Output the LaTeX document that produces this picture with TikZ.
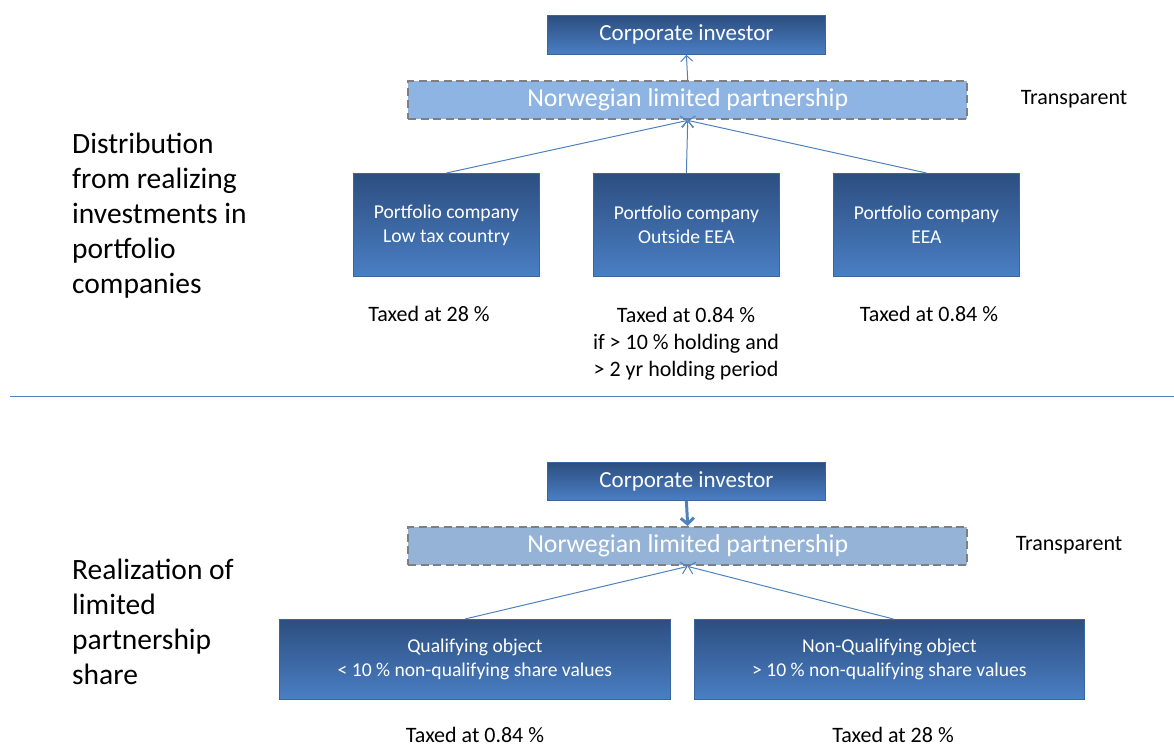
\documentclass[tikz,border=0pt]{standalone}
\usepackage{fontspec}
\setmainfont{Carlito}
\usetikzlibrary{arrows.meta,positioning}
\definecolor{boxtop}{HTML}{2C4E80}
\definecolor{boxbot}{HTML}{4A7FC4}
\definecolor{boxline}{HTML}{3A66A0}
\definecolor{lpfill}{HTML}{8EB4E3}
\definecolor{lpfillb}{HTML}{95B3D7}
\definecolor{conn}{HTML}{4F81BD}
\definecolor{dashgray}{HTML}{7F7F7F}
\tikzset{
  x=1pt,y=-1pt,
  bluebox/.style={draw=boxline,line width=0.8pt,top color=boxtop,bottom color=boxbot,text=white,align=center,inner sep=0pt,anchor=north west},
  lpbox/.style={draw=dashgray,line width=2.4pt,dash pattern=on 8pt off 4.5pt,fill=#1,text=white,inner sep=0pt,anchor=north west,font=\fontsize{25.8}{28}\selectfont},
  conline/.style={draw=conn,line width=1pt,-{Straight Barb[length=6pt,width=12pt]}},
  thickline/.style={draw=conn,line width=3pt,-{Straight Barb[length=6pt,width=13pt,line width=3pt]}},
  plain/.style={align=center,inner sep=0pt,font=\fontsize{22}{27}\selectfont},
  side/.style={align=left,inner sep=0pt,anchor=north west,font=\fontsize{29.5}{35}\selectfont},
  boxtext/.style={font=\fontsize{19.6}{24}\selectfont},
  trans/.style={inner sep=0pt,font=\fontsize{22}{26}\selectfont},
}
\begin{document}
\begin{tikzpicture}
\useasboundingbox (0,0) rectangle (1174,747);
% ---------- upper part ----------
\node[bluebox,minimum width=278pt,minimum height=39pt,font=\fontsize{23}{26}\selectfont] (ci1) at (547,15) {Corporate investor};
\node[lpbox=lpfill,minimum width=559pt,minimum height=38pt] (lp1) at (407,80) {Norwegian limited partnership};
\node[trans] (tr1) at (1074,99) {Transparent};
\node[bluebox,boxtext,minimum width=186pt,minimum height=103pt] (p1) at (353,173) {Portfolio company\\Low tax country};
\node[bluebox,boxtext,minimum width=186pt,minimum height=103pt] (p2) at (593,173) {Portfolio company\\Outside EEA};
\node[bluebox,boxtext,minimum width=186pt,minimum height=103pt] (p3) at (833,173) {Portfolio company\\EEA};
\draw[conline] (lp1.north) -- (ci1.south);
\draw[conline] (p1.north) -- (lp1.south);
\draw[conline] (p2.north) -- (lp1.south);
\draw[conline] (p3.north) -- (lp1.south);
\node[plain] (t1) at (429,314) {Taxed at 28 \%};
\node[plain,anchor=north] (t2) at (686,307) {Taxed at 0.84 \%\\if > 10 \% holding and\\> 2 yr holding period};
\node[plain] (t3) at (929,314) {Taxed at 0.84 \%};
\node[side] (s1) at (72,133) {Distribution\\from realizing\\investments in\\portfolio\\companies};
% separator
\coordinate (sepL) at (10,396);
\coordinate (sepR) at (1174,396);
\draw[conn,line width=1pt] (sepL) -- (sepR);
% ---------- lower part ----------
\node[bluebox,minimum width=278pt,minimum height=38pt,font=\fontsize{23}{26}\selectfont] (ci2) at (547,462) {Corporate investor};
\node[lpbox=lpfillb,minimum width=559pt,minimum height=38pt] (lp2) at (407,526) {Norwegian limited partnership};
\node[trans] (tr2) at (1069,545) {Transparent};
\node[bluebox,boxtext,minimum width=391pt,minimum height=80pt] (q1) at (279,619) {Qualifying object\\< 10 \% non-qualifying share values};
\node[bluebox,boxtext,minimum width=390pt,minimum height=80pt] (q2) at (694,619) {Non-Qualifying object\\> 10 \% non-qualifying share values};
\draw[thickline] (ci2.south) -- (lp2.north);
\draw[conline] ([xshift=-10pt]q1.north) -- (lp2.south);
\draw[conline] ([xshift=4pt]q2.north) -- (lp2.south);
\node[plain] (t4) at (475,735) {Taxed at 0.84 \%};
\node[plain] (t5) at (893,735) {Taxed at 28 \%};
\node[side] (s2) at (72,559) {Realization of\\limited\\partnership\\share};
\end{tikzpicture}
\end{document}
